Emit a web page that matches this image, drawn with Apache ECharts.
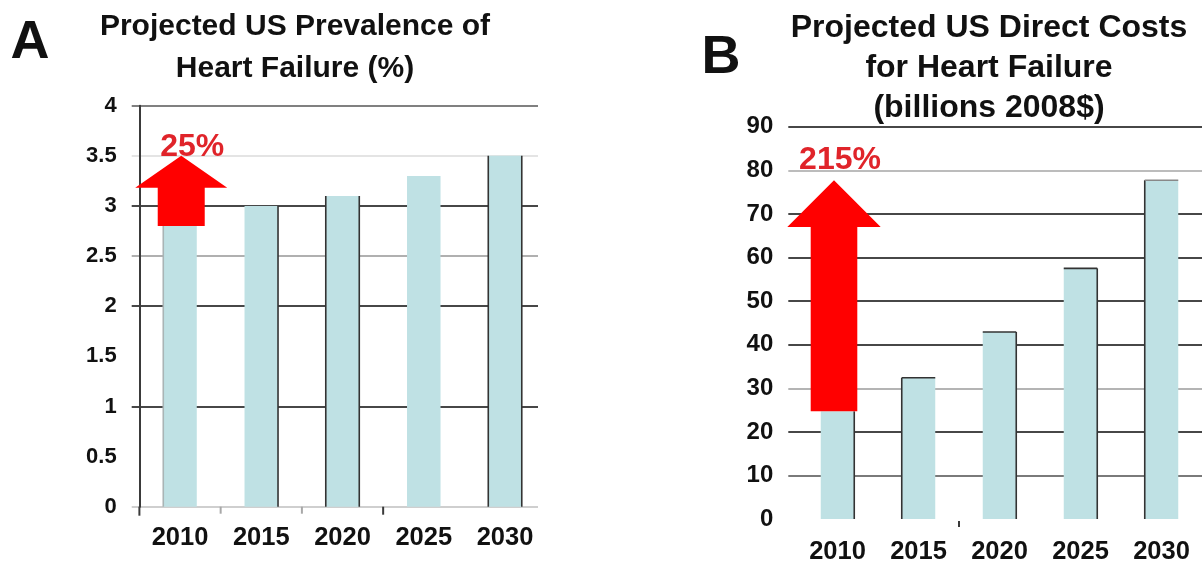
<!DOCTYPE html>
<html>
<head>
<meta charset="utf-8">
<script src="https://cdn.jsdelivr.net/npm/echarts@6/dist/echarts.min.js"></script>
<style>
  html, body { margin: 0; padding: 0; background: #ffffff; }
  #chart { width: 1202px; height: 565px; }
</style>
</head>
<body>
<div id="chart"></div>
<script>
// ---- data ----
const years = ['2010', '2015', '2020', '2025', '2030'];
const prevalencePct = [2.8, 3.0, 3.1, 3.3, 3.5];          // % of US adults
const directCostsBn = [24.7, 32.4, 42.9, 57.5, 77.7];     // billions, 2008 dollars
const prevalenceTickLabels = ['0', '0.5', '1', '1.5', '2', '2.5', '3', '3.5', '4'];
const costTickLabels = ['0', '10', '20', '30', '40', '50', '60', '70', '80', '90'];

// ---- styling ----
const FONT = '"Liberation Sans", Arial, Helvetica, sans-serif';
const INK = '#111111';
const BAR_FILL = '#bfe1e4';
const BAR_W = 33.5;
const ARROW_RED = '#ff0000';
const LABEL_RED = '#e0242a';
const DARK = '#474747';
const NONE = 'rgba(0,0,0,0)';

// per-bar edge shading (left / right / top outlines)
const edgesA = [
  { left: '#a9b4b5' }, { right: '#333' }, { left: '#333', right: '#333' }, {}, { left: '#333', right: '#333' }
];
const edgesB = [
  { right: '#333' }, { left: '#333', top: '#333' }, { top: '#333', right: '#333' },
  { top: '#333', right: '#333' }, { left: '#333', top: '#888' }
];

// small marks under the category axis, at the left boundary of the given slot
const boundaryMarksA = [
  { slot: 0, color: '#3a3a3a', len: 9 }, { slot: 1, color: '#a8a8a8', len: 7 },
  { slot: 2, color: '#a8a8a8', len: 7 }, { slot: 3, color: '#3a3a3a', len: 8 }
];
const boundaryMarksB = [{ slot: 2, color: '#3a3a3a', len: 6, gap: 2 }];

// gridline colours from the bottom tick upward
const splitColorsA = ['#cfcfcf', NONE, DARK, NONE, DARK, '#b0b0b0', DARK, '#e4e4e4', '#808080'];
const splitColorsB = [NONE, '#7a7a7a', DARK, '#b4b4b4', DARK, DARK, DARK, DARK, '#bcbcbc', DARK];

function tickSpec(labels) {
  const nums = labels.map(Number);
  return { min: nums[0], max: nums[nums.length - 1], interval: nums[1] - nums[0] };
}

function growthText(values) {
  const first = values[0], last = values[values.length - 1];
  return Math.round((last - first) / first * 100) + '%';
}

function barRenderer(edges) {
  return function (params, api) {
    const i = api.value(0);
    const top = api.coord([i, api.value(1)]);
    const base = api.coord([i, 0]);
    const x0 = top[0] - BAR_W / 2;
    const x1 = top[0] + BAR_W / 2;
    const kids = [{
      type: 'rect',
      shape: { x: x0, y: top[1], width: BAR_W, height: base[1] - top[1] },
      style: { fill: BAR_FILL }
    }];
    const e = edges[params.dataIndex] || {};
    const seg = (xa, ya, xb, yb, c) => ({
      type: 'line', shape: { x1: xa, y1: ya, x2: xb, y2: yb },
      style: { stroke: c, lineWidth: 1.6 }
    });
    if (e.left) kids.push(seg(x0, top[1], x0, base[1], e.left));
    if (e.right) kids.push(seg(x1, top[1], x1, base[1], e.right));
    if (e.top) kids.push(seg(x0, top[1], x1, top[1], e.top));
    return { type: 'group', children: kids };
  };
}

function boundaryMarkRenderer(marks) {
  return function (params, api) {
    const m = marks[params.dataIndex];
    const c = api.coord([m.slot, 0]);
    const band = api.size([1, 0])[0];
    const x = c[0] - band / 2;
    const y0 = c[1] + (m.gap || 0);
    return {
      type: 'line',
      shape: { x1: x, y1: y0, x2: x, y2: y0 + m.len },
      style: { stroke: m.color, lineWidth: 2 }
    };
  };
}

// block arrow from the first value up to the last one, with its growth label
function arrowRenderer(opt) {
  return function (params, api) {
    const i = api.value(0);
    const b = api.coord([i, api.value(1)]);
    const t = api.coord([i, api.value(2)]);
    const cx = b[0] + opt.dx;
    const hy = t[1] + opt.headLen;
    return {
      type: 'group',
      children: [{
        type: 'polygon',
        shape: {
          points: [
            [cx - opt.shaft, b[1]], [cx + opt.shaft, b[1]], [cx + opt.shaft, hy],
            [cx + opt.head, hy], [cx, t[1]], [cx - opt.head, hy], [cx - opt.shaft, hy]
          ]
        },
        style: { fill: ARROW_RED }
      }, {
        type: 'text',
        style: {
          text: opt.label, x: cx + opt.labelDx, y: t[1] - opt.labelDy,
          align: 'center', verticalAlign: 'middle',
          font: 'bold 32px ' + FONT, fill: LABEL_RED
        },
        z2: 10
      }]
    };
  };
}

const ticksA = tickSpec(prevalenceTickLabels);
const ticksB = tickSpec(costTickLabels);

const gridA = { top: 105.7, height: 401 };
const gridB = { top: 126.7, height: 392.6 };

const yLabelStyle = { color: INK, fontFamily: FONT, fontWeight: 'bold', fontSize: 22, margin: 15 };
const xLabelStyle = { color: INK, fontFamily: FONT, fontWeight: 'bold', fontSize: 25.5, margin: 18 };

const option = {
  backgroundColor: '#ffffff',
  animation: false,
  graphic: [
    { type: 'text', x: 30, y: 43, style: { text: 'A', font: 'bold 54px ' + FONT, fill: INK, align: 'center', verticalAlign: 'middle' } },
    { type: 'text', x: 721, y: 58, style: { text: 'B', font: 'bold 54px ' + FONT, fill: INK, align: 'center', verticalAlign: 'middle' } },
    { type: 'text', x: 295, y: 6, style: { text: 'Projected US Prevalence of\nHeart Failure (%)', font: 'bold 30px ' + FONT, lineHeight: 42, fill: INK, align: 'center', verticalAlign: 'top' } },
    { type: 'text', x: 989, y: 8, style: { text: 'Projected US Direct Costs\nfor Heart Failure\n(billions 2008$)', font: 'bold 32px ' + FONT, lineHeight: 40, fill: INK, align: 'center', verticalAlign: 'top' } }
  ],
  grid: [
    { left: 131.7, width: 406.3, top: gridA.top, height: gridA.height },   // A gridlines
    { left: 139.4, width: 406.25, top: gridA.top, height: gridA.height },  // A bars
    { left: 788.3, width: 420, top: gridB.top, height: gridB.height },     // B gridlines
    { left: 797, width: 414.5, top: gridB.top, height: gridB.height }      // B bars
  ],
  xAxis: [
    { gridIndex: 0, type: 'value', min: 0, max: 1, show: false },
    {
      gridIndex: 1, type: 'category', data: years, position: 'bottom',
      axisLine: { show: false }, axisTick: { show: false },
      axisLabel: xLabelStyle, splitLine: { show: false }
    },
    { gridIndex: 2, type: 'value', min: 0, max: 1, show: false },
    {
      gridIndex: 3, type: 'category', data: years, position: 'bottom',
      axisLine: { show: false }, axisTick: { show: false },
      axisLabel: Object.assign({}, xLabelStyle, { margin: 20 }), splitLine: { show: false }
    }
  ],
  yAxis: [
    {
      gridIndex: 0, type: 'value', min: ticksA.min, max: ticksA.max, interval: ticksA.interval,
      axisLine: { show: false }, axisTick: { show: false },
      axisLabel: Object.assign({}, yLabelStyle, { formatter: (v) => prevalenceTickLabels[Math.round(v / ticksA.interval)] }),
      splitLine: { show: true, lineStyle: { color: splitColorsA, width: 2 } }
    },
    {
      gridIndex: 1, type: 'value', min: ticksA.min, max: ticksA.max, interval: ticksA.interval,
      axisLine: { show: true, lineStyle: { color: '#3a3a3a', width: 2 } },
      axisTick: { show: false }, axisLabel: { show: false }, splitLine: { show: false }
    },
    {
      gridIndex: 2, type: 'value', min: ticksB.min, max: ticksB.max, interval: ticksB.interval,
      axisLine: { show: false }, axisTick: { show: false },
      axisLabel: Object.assign({}, yLabelStyle, { fontSize: 24, formatter: (v) => costTickLabels[Math.round(v / ticksB.interval)] }),
      splitLine: { show: true, lineStyle: { color: splitColorsB, width: 2 } }
    },
    {
      gridIndex: 3, type: 'value', min: ticksB.min, max: ticksB.max, interval: ticksB.interval,
      show: false
    }
  ],
  series: [
    {
      type: 'custom', xAxisIndex: 1, yAxisIndex: 1,
      renderItem: barRenderer(edgesA),
      data: prevalencePct.map((v, i) => [i, v])
    },
    {
      type: 'custom', xAxisIndex: 1, yAxisIndex: 1, clip: false,
      renderItem: boundaryMarkRenderer(boundaryMarksA),
      data: boundaryMarksA.map((m, i) => [i, 0])
    },
    {
      type: 'custom', xAxisIndex: 1, yAxisIndex: 1, z: 5,
      renderItem: arrowRenderer({ dx: 1.2, shaft: 23.5, head: 46, headLen: 32, label: growthText(prevalencePct), labelDx: 11, labelDy: 9 }),
      data: [[0, prevalencePct[0], prevalencePct[prevalencePct.length - 1]]]
    },
    {
      type: 'custom', xAxisIndex: 3, yAxisIndex: 3,
      renderItem: barRenderer(edgesB),
      data: directCostsBn.map((v, i) => [i, v])
    },
    {
      type: 'custom', xAxisIndex: 3, yAxisIndex: 3, clip: false,
      renderItem: boundaryMarkRenderer(boundaryMarksB),
      data: boundaryMarksB.map((m, i) => [i, 0])
    },
    {
      type: 'custom', xAxisIndex: 3, yAxisIndex: 3, z: 5,
      renderItem: arrowRenderer({ dx: -3.5, shaft: 23.3, head: 46.7, headLen: 46.7, label: growthText(directCostsBn), labelDx: 6, labelDy: 20 }),
      data: [[0, directCostsBn[0], directCostsBn[directCostsBn.length - 1]]]
    }
  ]
};

const chart = echarts.init(document.getElementById('chart'), null, { renderer: 'canvas' });
chart.setOption(option);
</script>
</body>
</html>
